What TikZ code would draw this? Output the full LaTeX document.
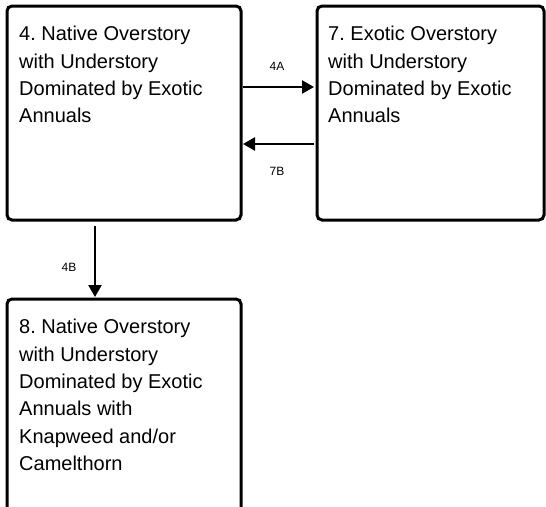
\documentclass[tikz,border=0pt]{standalone}
\usepackage{fontspec}
\setmainfont{Liberation Sans}
\usetikzlibrary{arrows.meta}
\frenchspacing
\begin{document}
\begin{tikzpicture}[x=1pt,y=-1pt,
  boxline/.style={line width=3pt, rounded corners=5pt, black},
  boxtext/.style={anchor=north west, align=left, inner sep=0pt, font=\fontsize{20}{27.4}\selectfont},
  conn/.style={line width=2.5pt, -{Triangle[length=12pt,width=13pt]}},
  lab/.style={font=\fontsize{12}{14}\selectfont, inner sep=0pt}]
\useasboundingbox (0,0) rectangle (546,506);
\clip (0,0) rectangle (546,506);
% boxes
\draw[boxline] (7,6) rectangle (241,220);
\draw[boxline] (317,6) rectangle (544,220);
\draw[boxline] (7,520) -- (7,299) -- (241,299) -- (241,520);
% connector end points on the box borders
\coordinate (b4e1) at (243,87);
\coordinate (b7w1) at (314,87);
\coordinate (b7w2) at (314,144);
\coordinate (b4e2) at (243,144);
\coordinate (b4s) at (95,226);
\coordinate (b8n) at (95,297);
% texts
\node[boxtext] (t4) at (19,26) {4. Native Overstory\\with Understory\\Dominated by Exotic\\Annuals};
\node[boxtext] (t7) at (328,26) {7. Exotic Overstory\\with Understory\\Dominated by Exotic\\Annuals};
\node[boxtext] (t8) at (19,319) {8. Native Overstory\\with Understory\\Dominated by Exotic\\Annuals with\\Knapweed and/or\\Camelthorn};
% connectors
\draw[conn] (b4e1) -- (b7w1);
\draw[conn] (b7w2) -- (b4e2);
\draw[conn] (b4s) -- (b8n);
\node[lab] (l4a) at (277,66) {4A};
\node[lab] (l7b) at (277,171) {7B};
\node[lab] (l4b) at (69,267) {4B};
\end{tikzpicture}
\end{document}
